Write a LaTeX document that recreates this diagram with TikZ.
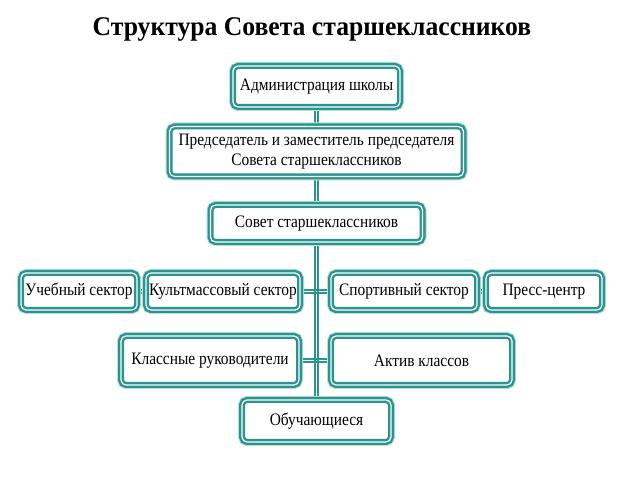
\documentclass[tikz,border=0pt]{standalone}
\usepackage{fontspec}
\setmainfont{Liberation Serif}
\newfontfamily\boxfont{Liberation Serif}[FakeStretch=0.88]
\newfontfamily\titlefont{Liberation Serif}[FakeStretch=0.95]
\usetikzlibrary{backgrounds}
\definecolor{tealc}{HTML}{2A958F}
\definecolor{halo}{HTML}{B5E0DC}
\tikzset{
  box/.style={draw=tealc, double=white, line width=2.4pt, double distance=1.2pt,
    rounded corners=5pt, fill=white, inner sep=0pt, align=center,
    font=\boxfont\fontsize{17.5}{20}\selectfont,
    preaction={draw=halo, line width=8pt}},
  lnA/.style={draw=tealc, line width=1.3pt},
}
\begin{document}
\begin{tikzpicture}[x=1pt,y=-1pt]
\useasboundingbox (0,0) rectangle (622,478);
\node[anchor=base, font=\titlefont\bfseries\fontsize{27}{30}\selectfont] (title) at (312,36) {Структура Совета старшеклассников};
\node[box, minimum width=167, minimum height=41] (adm) at (316.5,86.5) {Администрация школы};
\node[box, minimum width=294, minimum height=50] (pred) at (316.5,151.5) {Председатель и заместитель председателя\\Совета старшеклассников};
\node[box, minimum width=212, minimum height=37] (sovet) at (316.5,223.5) {Совет старшеклассников};
\node[box, minimum width=116, minimum height=37] (ucheb) at (79,291.5) {Учебный сектор};
\node[box, minimum width=154, minimum height=37] (kult) at (223,291.5) {Культмассовый сектор};
\node[box, minimum width=146, minimum height=37] (sport) at (404,291.5) {Спортивный сектор};
\node[box, minimum width=116, minimum height=37] (press) at (544,291.5) {Пресс-центр};
\node[box, minimum width=178, minimum height=49] (klass) at (210,360.5) {Классные руководители};
\node[box, minimum width=181, minimum height=49] (aktiv) at (421.5,360.5) {Актив классов};
\node[box, minimum width=149, minimum height=42] (obuch) at (316.5,421) {Обучающиеся};
\begin{scope}[on background layer]
  \fill[white] (0,0) rectangle (622,478);
  \foreach \s in {-1.6,1.6}{
    \draw[lnA, transform canvas={xshift=\s pt}] (adm) -- (obuch);
    \draw[lnA, transform canvas={yshift=\s pt}] (ucheb) -- (kult);
    \draw[lnA, transform canvas={yshift=\s pt}] (kult) -- (sport);
    \draw[lnA, transform canvas={yshift=\s pt}] (sport) -- (press);
    \draw[lnA, transform canvas={yshift=\s pt}] (klass) -- (aktiv);
  }
\end{scope}
\end{tikzpicture}
\end{document}
